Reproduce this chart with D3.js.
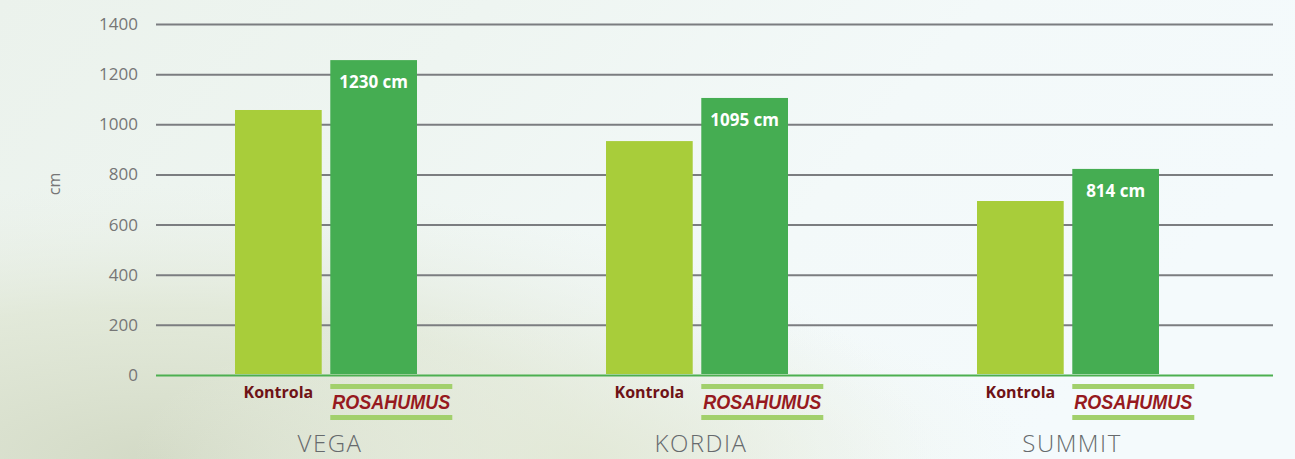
<!DOCTYPE html>
<html>
<head>
<meta charset="utf-8">
<script src="https://cdn.jsdelivr.net/npm/d3@7"></script>
<style>
  html, body { margin: 0; padding: 0; }
  body { width: 1295px; height: 459px; overflow: hidden; font-family: "Open Sans", sans-serif; }
</style>
</head>
<body>
<div id="chart"></div>
<script>
const varieties = ["VEGA", "KORDIA", "SUMMIT"];
const series = ["Kontrola", "ROSAHUMUS"];
const kontrola = [1057, 933, 694];
const rosahumus = [1256, 1105, 822];
const valueLabels = ["1230 cm", "1095 cm", "814 cm"];
const yTicks = [0, 200, 400, 600, 800, 1000, 1200, 1400];

const width = 1295;
const height = 459;

const svg = d3.select("#chart")
  .append("svg")
  .attr("width", width)
  .attr("height", height);

// soft photo-like background
const defs = svg.append("defs");
const bgLin = defs.append("linearGradient").attr("id", "bgLin")
  .attr("x1", 0).attr("y1", 0).attr("x2", 1).attr("y2", 0.3);
bgLin.append("stop").attr("offset", "0%").attr("stop-color", "#ebf2ec");
bgLin.append("stop").attr("offset", "35%").attr("stop-color", "#eef5f1");
bgLin.append("stop").attr("offset", "70%").attr("stop-color", "#f3f9f9");
bgLin.append("stop").attr("offset", "100%").attr("stop-color", "#f4fafc");

const bgRad = defs.append("radialGradient").attr("id", "bgRad")
  .attr("cx", 0.12).attr("cy", 1).attr("r", 0.6);
bgRad.append("stop").attr("offset", "0%").attr("stop-color", "#d3dac6").attr("stop-opacity", 1);
bgRad.append("stop").attr("offset", "55%").attr("stop-color", "#dde4d0").attr("stop-opacity", 0.7);
bgRad.append("stop").attr("offset", "100%").attr("stop-color", "#e8eee4").attr("stop-opacity", 0);

const bgRad2 = defs.append("radialGradient").attr("id", "bgRad2")
  .attr("cx", 0.45).attr("cy", 1).attr("r", 0.35);
bgRad2.append("stop").attr("offset", "0%").attr("stop-color", "#e2e8d6").attr("stop-opacity", 0.8);
bgRad2.append("stop").attr("offset", "100%").attr("stop-color", "#eef3ea").attr("stop-opacity", 0);

svg.append("rect").attr("width", width).attr("height", height).attr("fill", "url(#bgLin)");
svg.append("rect").attr("width", width).attr("height", height).attr("fill", "url(#bgRad)");
svg.append("rect").attr("width", width).attr("height", height).attr("fill", "url(#bgRad2)");

const y = d3.scaleLinear().domain([0, 1400]).range([375, 24]);

const x0 = d3.scaleBand().domain(varieties).range([140.5, 1253.5]);
const x1 = d3.scaleBand().domain(series).range([-91, 91]).paddingInner(0.09);

// grid
const grid = svg.append("g")
  .attr("transform", "translate(156,0)")
  .call(d3.axisLeft(y).tickValues(yTicks).tickSize(-1117).tickFormat(""));
grid.select(".domain").remove();
grid.selectAll(".tick line")
  .attr("stroke", d => d === 0 ? "#4caf50" : "#7b7d80")
  .attr("stroke-width", 2);

// y labels
const yAxis = svg.append("g")
  .attr("transform", "translate(138,0)")
  .call(d3.axisLeft(y).tickValues(yTicks).tickSize(0).tickPadding(0).tickFormat(d3.format("d")));
yAxis.select(".domain").remove();
yAxis.selectAll("text")
  .attr("fill", "#767676")
  .attr("font-size", 17)
  .attr("font-family", "'Open Sans', sans-serif");

svg.append("text")
  .attr("transform", "translate(60,184) rotate(-90)")
  .attr("text-anchor", "middle")
  .attr("fill", "#767676")
  .attr("font-size", 16)
  .text("cm");

const groups = svg.selectAll(".group")
  .data(varieties)
  .enter()
  .append("g")
  .attr("class", "group")
  .attr("transform", d => `translate(${x0(d) + x0.bandwidth() / 2},0)`);

// Kontrola bars
groups.append("rect")
  .attr("x", x1("Kontrola"))
  .attr("width", x1.bandwidth())
  .attr("y", (d, i) => y(kontrola[i]))
  .attr("height", (d, i) => y(0) - y(kontrola[i]) - 1)
  .attr("fill", "#a8cd3a");

// Rosahumus bars
groups.append("rect")
  .attr("x", x1("ROSAHUMUS"))
  .attr("width", x1.bandwidth())
  .attr("y", (d, i) => y(rosahumus[i]))
  .attr("height", (d, i) => y(0) - y(rosahumus[i]) - 1)
  .attr("fill", "#45ad52");

groups.append("text")
  .attr("x", x1("ROSAHUMUS") + x1.bandwidth() / 2)
  .attr("y", (d, i) => y(rosahumus[i]) + 28)
  .attr("text-anchor", "middle")
  .attr("fill", "#ffffff")
  .attr("font-weight", 700)
  .attr("font-size", 17)
  .text((d, i) => valueLabels[i]);

// series labels under bars
groups.append("text")
  .attr("x", x1("Kontrola") + x1.bandwidth() / 2)
  .attr("y", 398)
  .attr("text-anchor", "middle")
  .attr("fill", "#6e1216")
  .attr("font-weight", 700)
  .attr("font-size", 16)
  .text("Kontrola");

const logoX = x1("ROSAHUMUS");
groups.append("rect")
  .attr("x", logoX).attr("y", 384).attr("width", 122).attr("height", 5)
  .attr("fill", "#a2d06c");
groups.append("rect")
  .attr("x", logoX).attr("y", 415).attr("width", 122).attr("height", 5)
  .attr("fill", "#a2d06c");
groups.append("text")
  .attr("x", logoX + 61)
  .attr("y", 409)
  .attr("text-anchor", "middle")
  .attr("fill", "#961920")
  .attr("font-family", "'Liberation Sans', sans-serif")
  .attr("font-weight", 700)
  .attr("font-style", "italic")
  .attr("font-size", 21)
  .attr("textLength", 118)
  .attr("lengthAdjust", "spacingAndGlyphs")
  .text("ROSAHUMUS");

// category labels
groups.append("text")
  .attr("x", 4)
  .attr("y", 452)
  .attr("text-anchor", "middle")
  .attr("fill", "#666a6d")
  .attr("font-weight", 300)
  .attr("font-size", 24)
  .attr("letter-spacing", 1.5)
  .text(d => d);
</script>
</body>
</html>
